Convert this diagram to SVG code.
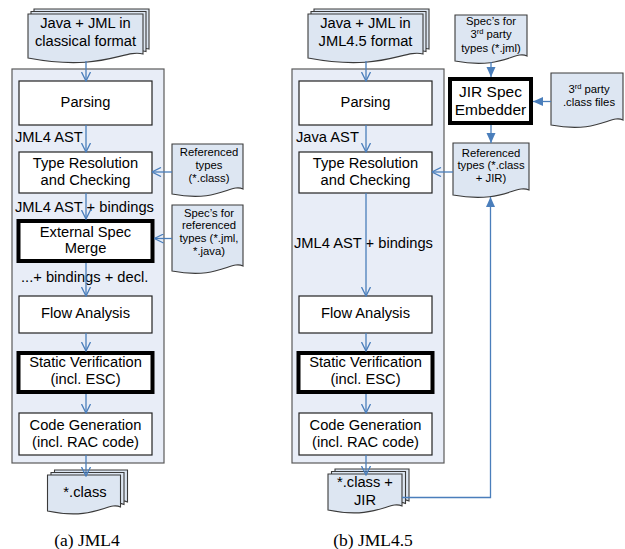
<svg xmlns="http://www.w3.org/2000/svg" width="625" height="549" viewBox="0 0 625 549">
<style>
text{font-family:"Liberation Sans",Arial,sans-serif;fill:#000}
.t{font-size:14.7px;text-anchor:middle}
.l{font-size:14.7px}
.s{font-size:11.3px;text-anchor:middle}
.cap{font-family:"Liberation Serif","Times New Roman",serif;font-size:17.5px;text-anchor:middle}
.cont{fill:#e8edf7;stroke:#5a5a5a;stroke-width:1.2}
.box{fill:#fff;stroke:#222;stroke-width:1.2}
.thick{fill:#fff;stroke:#000;stroke-width:4}
.doc{fill:#dde6f2;stroke:#3a3a3a;stroke-width:1.1}
.c{fill:none;stroke:#4a7ebb;stroke-width:1.3}
.o{marker-end:url(#open)}
.f{marker-end:url(#fill)}
</style>
<defs>
<marker id="open" viewBox="0 0 10 10" refX="9.5" refY="5" markerWidth="10" markerHeight="10" markerUnits="userSpaceOnUse" orient="auto">
<path d="M0.5,0.5 L9.5,5 L0.5,9.5" fill="none" stroke="#4a7ebb" stroke-width="1.3"/>
</marker>
<marker id="fill" viewBox="0 0 10 10" refX="10" refY="5" markerWidth="10" markerHeight="10" markerUnits="userSpaceOnUse" orient="auto">
<path d="M0,0.5 L10,5 L0,9.5 Z" fill="#4a7ebb"/>
</marker>
</defs>

<!-- containers -->
<rect id="containerA" class="cont" x="12" y="69" width="152" height="394"/>
<rect id="containerB" class="cont" x="292" y="69" width="152" height="394"/>

<!-- Left panel -->
<g id="srcA">
<path class="doc" d="M34,9 H149 V49 C129.5,44 109,67 34,53 Z"/>
<path class="doc" d="M31,11.5 H146 V51.5 C126.5,46.5 106,69.5 31,55.5 Z"/>
<path class="doc" d="M28,14 H143 V54 C123.5,49 103,72 28,58 Z"/>
<text class="t" x="85.5" y="28">Java + JML in</text>
<text class="t" x="85.5" y="46">classical format</text>
</g>
<g id="parsingA"><rect class="box" x="19" y="81" width="133" height="44"/><text class="t" x="85.5" y="107">Parsing</text></g>
<g id="typeA"><rect class="box" x="19" y="152" width="133" height="41"/><text class="t" x="85.5" y="168">Type Resolution</text><text class="t" x="85.5" y="185">and Checking</text></g>
<g id="mergeA"><rect class="thick" x="18.5" y="221" width="134" height="40"/><text class="t" x="85.5" y="237">External Spec</text><text class="t" x="85.5" y="253">Merge</text></g>
<g id="flowA"><rect class="box" x="19" y="296" width="133" height="37"/><text class="t" x="85.5" y="318">Flow Analysis</text></g>
<g id="staticA"><rect class="thick" x="18.5" y="353" width="134" height="39"/><text class="t" x="85.5" y="367">Static Verification</text><text class="t" x="85.5" y="384">(incl. ESC)</text></g>
<g id="codegenA"><rect class="box" x="19" y="413" width="133" height="42"/><text class="t" x="85.5" y="430">Code Generation</text><text class="t" x="85.5" y="447">(incl. RAC code)</text></g>
<g id="refA">
<path class="doc" d="M172,144 H243 V189 C231,183 219,203 172,194 Z"/>
<text class="s" x="209" y="156">Referenced</text>
<text class="s" x="209" y="169">types</text>
<text class="s" x="209" y="181.5">(*.class)</text>
</g>
<g id="specA">
<path class="doc" d="M172,205 H243 V266 C231,260 219,280 172,271 Z"/>
<text class="s" x="209" y="216.5">Spec’s for</text>
<text class="s" x="209" y="229">referenced</text>
<text class="s" x="209" y="242">types (*.jml,</text>
<text class="s" x="209" y="255">*.java)</text>
</g>
<g id="outA">
<path class="doc" d="M54.5,470 H127.5 V502 C115,496 103,516 54.5,506 Z"/>
<path class="doc" d="M51,472.5 H124 V504.5 C111.5,498.5 99.5,518.5 51,508.5 Z"/>
<path class="doc" d="M47.5,475 H120.5 V507 C108,501 96,521 47.5,511 Z"/>
<text class="t" x="85" y="497">*.class</text>
</g>
<g id="labelsA">
<text class="l" x="15" y="142">JML4 AST</text>
<text class="l" x="15" y="212">JML4 AST + bindings</text>
<text class="l" x="21" y="282">...+ bindings + decl.</text>
</g>
<text id="capA" class="cap" x="87" y="546">(a) JML4</text>

<!-- Right panel -->
<g id="srcB">
<path class="doc" d="M314,9 H429 V49 C409.5,44 389,67 314,53 Z"/>
<path class="doc" d="M311,11.5 H426 V51.5 C406.5,46.5 386,69.5 311,55.5 Z"/>
<path class="doc" d="M308,14 H423 V54 C403.5,49 383,72 308,58 Z"/>
<text class="t" x="365.5" y="28">Java + JML in</text>
<text class="t" x="365.5" y="46">JML4.5 format</text>
</g>
<g id="parsingB"><rect class="box" x="299" y="81" width="133" height="44"/><text class="t" x="365.5" y="107">Parsing</text></g>
<g id="typeB"><rect class="box" x="299" y="152" width="133" height="41"/><text class="t" x="365.5" y="168">Type Resolution</text><text class="t" x="365.5" y="185">and Checking</text></g>
<g id="flowB"><rect class="box" x="299" y="296" width="133" height="37"/><text class="t" x="365.5" y="318">Flow Analysis</text></g>
<g id="staticB"><rect class="thick" x="298.5" y="353" width="134" height="39"/><text class="t" x="365.5" y="367">Static Verification</text><text class="t" x="365.5" y="384">(incl. ESC)</text></g>
<g id="codegenB"><rect class="box" x="299" y="413" width="133" height="42"/><text class="t" x="365.5" y="430">Code Generation</text><text class="t" x="365.5" y="447">(incl. RAC code)</text></g>
<g id="spec3B">
<path class="doc" d="M455,15 H527 V56 C515,50 503,70 455,61 Z"/>
<text class="s" x="491" y="25">Spec’s for</text>
<text class="s" x="491" y="38">3<tspan font-size="7.5px" dy="-4">rd</tspan><tspan dy="4"> party</tspan></text>
<text class="s" x="491" y="52">types (*.jml)</text>
</g>
<g id="jirB"><rect class="thick" x="450" y="79" width="81" height="44"/><text x="490.5" y="96.5" style="font-size:15.5px;text-anchor:middle">JIR Spec</text><text x="490.5" y="115" style="font-size:15.5px;text-anchor:middle">Embedder</text></g>
<g id="class3B">
<path class="doc" d="M551,73 H623 V120 C611,114 599,134 551,125 Z"/>
<text class="s" x="589" y="93">3<tspan font-size="7.5px" dy="-4">rd</tspan><tspan dy="4"> party</tspan></text>
<text class="s" x="589" y="105.5">.class files</text>
</g>
<g id="refB">
<path class="doc" d="M453,143 H529 V190 C516,184 503,204 453,195 Z"/>
<text class="s" x="491" y="156.5">Referenced</text>
<text class="s" x="491" y="169">types (*.class</text>
<text class="s" x="491" y="181.5">+ JIR)</text>
</g>
<g id="outB">
<path class="doc" d="M335,469 H409 V501 C396.5,495 384,515 335,505 Z"/>
<path class="doc" d="M331.5,471.5 H405.5 V503.5 C393,497.5 380.5,517.5 331.5,507.5 Z"/>
<path class="doc" d="M328,474 H402 V506 C389.5,500 377,520 328,510 Z"/>
<text class="t" x="365" y="487">*.class +</text>
<text class="t" x="365" y="505">JIR</text>
</g>
<g id="labelsB">
<text class="l" x="296" y="142">Java AST</text>
<text class="l" x="294" y="248">JML4 AST + bindings</text>
</g>
<text id="capB" class="cap" x="373" y="546">(b) JML4.5</text>

<!-- connectors -->
<g id="connectors">
<line class="c o" x1="86" y1="61" x2="86" y2="81"/>
<line class="c o" x1="86" y1="125" x2="86" y2="152"/>
<line class="c o" x1="86" y1="193" x2="86" y2="219"/>
<line class="c o" x1="86" y1="263" x2="86" y2="296"/>
<line class="c o" x1="86" y1="333" x2="86" y2="351"/>
<line class="c o" x1="86" y1="394" x2="86" y2="413"/>
<line class="c o" x1="86" y1="455" x2="86" y2="476"/>
<line class="c o" x1="172" y1="172" x2="152" y2="172"/>
<line class="c o" x1="172" y1="238.5" x2="154.5" y2="238.5"/>

<line class="c o" x1="366" y1="61" x2="366" y2="81"/>
<line class="c o" x1="366" y1="125" x2="366" y2="152"/>
<line class="c o" x1="366" y1="193" x2="366" y2="296"/>
<line class="c o" x1="366" y1="333" x2="366" y2="351"/>
<line class="c o" x1="366" y1="394" x2="366" y2="413"/>
<line class="c o" x1="366" y1="455" x2="366" y2="475"/>
<line class="c o" x1="453" y1="172" x2="432" y2="172"/>

<line class="c f" x1="491" y1="62" x2="491" y2="77"/>
<line class="c f" x1="551" y1="101.5" x2="533" y2="101.5"/>
<line class="c f" x1="491" y1="125" x2="491" y2="143"/>
<polyline class="c f" points="402,497.5 490.5,497.5 490.5,197"/>
</g>
</svg>
